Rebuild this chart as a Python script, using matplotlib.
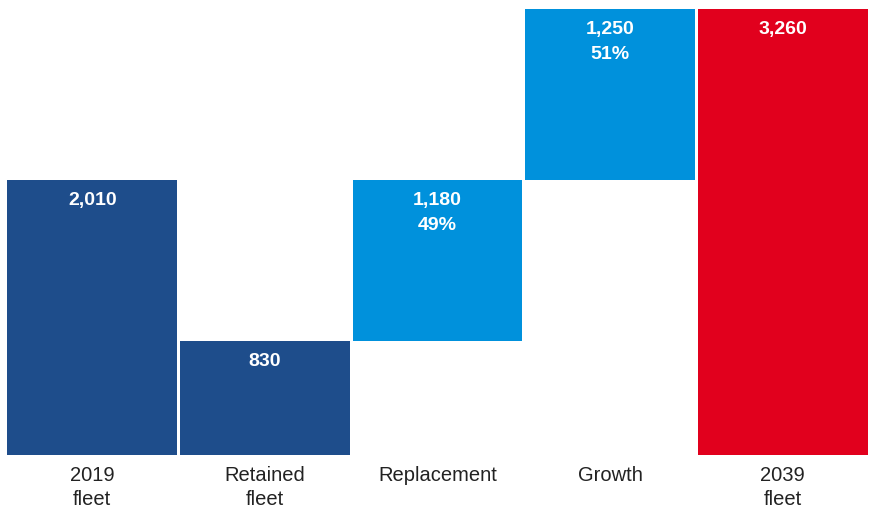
import matplotlib.pyplot as plt

categories = ["2019\nfleet", "Retained\nfleet", "Replacement", "Growth", "2039\nfleet"]
values = [2010, 830, 1180, 1250, 3260]
bottoms = [0, 0, 830, 2010, 0]
value_labels = ["2,010", "830", "1,180\n49%", "1,250\n51%", "3,260"]
colors = ["#1e4d8b", "#1e4d8b", "#0091dc", "#0091dc", "#e1001d"]

plt.rcParams["font.family"] = ["Liberation Sans", "DejaVu Sans"]

W, H = 877, 508
fig = plt.figure(figsize=(W / 100, H / 100), dpi=100)
ax = fig.add_axes([6 / W, (H - 455) / H, 863 / W, (455 - 9) / H])

x = range(len(categories))
ax.bar(x, values, bottom=bottoms, width=0.983, color=colors, linewidth=0)

for i, (v, b, lab) in enumerate(zip(values, bottoms, value_labels)):
    ax.annotate(lab, (i, b + v), xytext=(0, -8.5), textcoords="offset points",
                ha="center", va="top", color="white", fontsize=14,
                fontweight="bold", linespacing=1.6)

for i, cat in enumerate(categories):
    ax.annotate(cat, (i, 0), xytext=(0, -8), textcoords="offset points",
                ha="center", va="top", color="#222222", fontsize=14.5,
                linespacing=1.3)

ax.set_xlim(-0.5, 4.5)
ax.set_ylim(0, 3260)
ax.axis("off")

fig.savefig("out.png", dpi=100)
